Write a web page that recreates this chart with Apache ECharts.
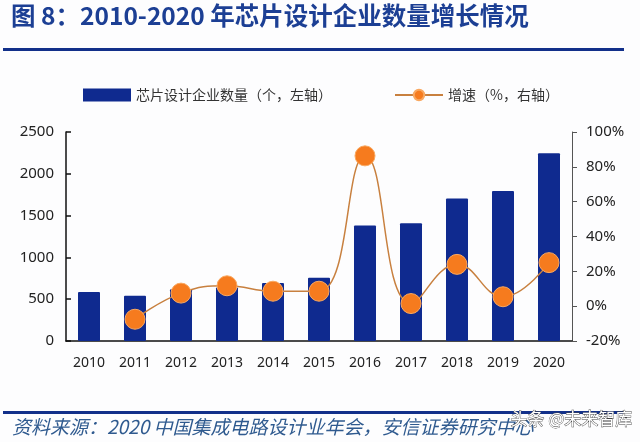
<!DOCTYPE html>
<html>
<head>
<meta charset="utf-8">
<style>
html,body{margin:0;padding:0;background:#fdfdfe;}
#main{width:640px;height:442px;}
</style>
<script src="https://cdn.jsdelivr.net/npm/echarts@6/dist/echarts.min.js"></script>
</head>
<body>
<div id="main"></div>
<script>
var years = ['2010','2011','2012','2013','2014','2015','2016','2017','2018','2019','2020'];
var companyCount = [585,542,620,640,693,758,1381,1409,1705,1793,2245];
var growthRate = [null,-7.5,7.5,11.7,8.6,8.6,86.3,1.5,24,5.4,25];

var barName = '芯片设计企业数量\uFF08个\uFF0C左轴\uFF09';
var lineName = '增速\uFF08%\uFF0C右轴\uFF09';
var titleText = '图 8\uFF1A2010-2020 年芯片设计企业数量增长情况';
var sourceText = '资料来源\uFF1A2020 中国集成电路设计业年会\uFF0C安信证券研究中心';

var labelFont = '"Noto Sans","Noto Sans CJK SC",sans-serif';
var cjkFont = '"Noto Sans CJK SC",sans-serif';

var chart = echarts.init(document.getElementById('main'));
chart.setOption({
	animation: false,
	backgroundColor: '#fdfdfe',
	title: [{
		text: titleText,
		left: 6, top: -2,
		textStyle: {color: '#1c3f94', fontFamily: cjkFont, fontWeight: 'bold', fontSize: 24.5}
	}, {
		text: sourceText,
		left: 7, top: 412,
		textStyle: {color: '#2f5a8f', fontFamily: cjkFont, fontStyle: 'italic', fontWeight: 'normal', fontSize: 19}
	}],
	legend: {
		left: 78, top: 83,
		itemGap: 62,
		itemWidth: 48, itemHeight: 13,
		textStyle: {color: '#333', fontFamily: cjkFont, fontSize: 14},
		data: [
			{name: barName, icon: 'rect'},
			{name: lineName}
		]
	},
	grid: {left: 66, right: 68, top: 132, bottom: 101},
	xAxis: {
		type: 'category',
		data: years,
		axisLine: {lineStyle: {color: '#111', width: 1.5}},
		axisTick: {inside: true, length: 5, lineStyle: {color: '#111', width: 1.5}},
		axisLabel: {color: '#222', fontFamily: labelFont, fontSize: 14, margin: 15}
	},
	yAxis: [{
		type: 'value',
		min: 0, max: 2500, interval: 500,
		axisLine: {show: true, lineStyle: {color: '#111', width: 1.5}},
		axisTick: {show: true, inside: true, length: 5, lineStyle: {color: '#111', width: 1.5}},
		splitLine: {show: false},
		axisLabel: {color: '#222', fontFamily: labelFont, fontSize: 15, margin: 12, formatter: function(v) { return String(v); }}
	}, {
		type: 'value',
		min: -20, max: 100, interval: 20,
		position: 'right',
		axisLine: {show: true, lineStyle: {color: '#555', width: 1}},
		axisTick: {show: true, length: 5, lineStyle: {color: '#555', width: 1}},
		splitLine: {show: false},
		axisLabel: {color: '#222', fontFamily: labelFont, fontSize: 15, margin: 14, formatter: '{value}%'}
	}],
	series: [{
		name: barName,
		type: 'bar',
		yAxisIndex: 0,
		barWidth: 22,
		itemStyle: {color: '#0f2a8f', borderRadius: 1},
		data: companyCount
	}, {
		name: lineName,
		type: 'line',
		yAxisIndex: 1,
		smooth: 0.45,
		symbol: 'circle',
		symbolSize: 20,
		lineStyle: {color: '#c8803f', width: 1.5},
		itemStyle: {color: '#f67b1e', borderColor: '#f9a860', borderWidth: 1},
		data: growthRate
	}],
	graphic: [
		{type: 'rect', shape: {x: 3, y: 48, width: 621, height: 3}, style: {fill: '#12308a'}},
		{type: 'rect', shape: {x: 3, y: 411, width: 621, height: 3}, style: {fill: '#12308a'}},
		{type: 'text', z: 100, left: 510, top: 410, style: {
			text: '头条 @未来智库', fill: '#ffffff', stroke: '#444', lineWidth: 0.8,
			font: '17px "Noto Sans CJK SC",sans-serif'
		}}
	]
});
</script>
</body>
</html>
